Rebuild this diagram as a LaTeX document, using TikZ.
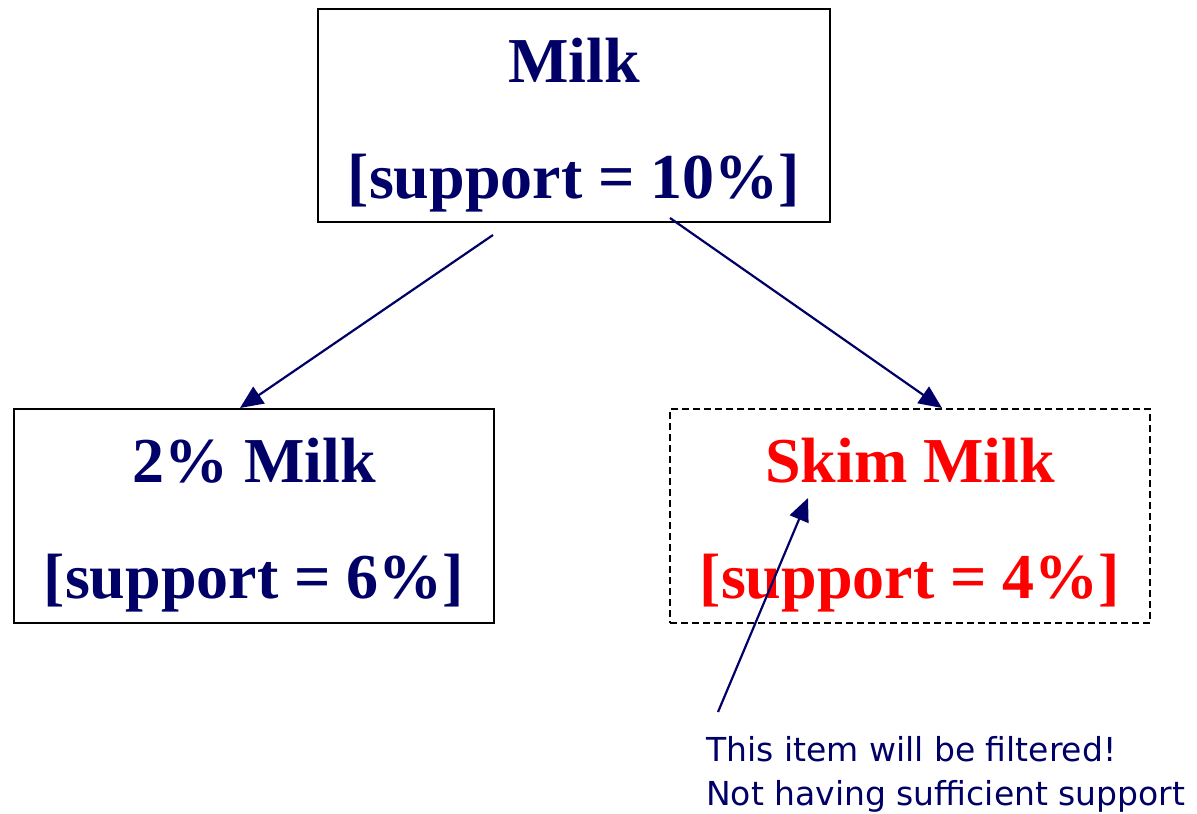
\documentclass[tikz,border=0pt]{standalone}
\usepackage{fontspec}
\setmainfont{Liberation Serif}
\newfontfamily\notefont{DejaVu Sans}
\usetikzlibrary{arrows.meta}
\definecolor{itemblue}{RGB}{0,0,102}
\definecolor{itemred}{RGB}{255,0,0}

\begin{document}
\begin{tikzpicture}[x=1pt,y=-1pt]
        \tikzstyle{every node}=[inner sep=0pt]
        \tikzstyle{itembox}=[draw=black,line width=2pt,minimum width=480pt,minimum height=214pt]
        \tikzstyle{itemtext}=[anchor=base,text=itemblue,font=\bfseries\fontsize{64}{76}\selectfont]
        \tikzstyle{link}=[draw=itemblue,line width=2.2pt,-{Triangle[length=23pt,width=20pt]}]
        \useasboundingbox (0,0) rectangle (1197,814);
        % boxes
        \node[itembox,minimum width=512pt,minimum height=213pt] (milk) at (574,115.5) {};
        \node[itembox] (two) at (254,516) {};
        \node[itembox,dash pattern=on 7pt off 4pt] (skim) at (910,516) {};
        % texts
        \node[itemtext] (milkname) at ([yshift=33.5pt]milk.center) {Milk};
        \node[itemtext] (milksup) at ([yshift=-82.5pt]milk.center) {[support = 10\%]};
        \node[itemtext] (twoname) at ([yshift=34pt]two.center) {2\% Milk};
        \node[itemtext] (twosup) at ([yshift=-82pt]two.center) {[support = 6\%]};
        \node[itemtext,text=itemred] (skimname) at ([yshift=34pt]skim.center) {Skim Milk};
        \node[itemtext,text=itemred] (skimsup) at ([yshift=-82pt]skim.center) {[support = 4\%]};
        \node[anchor=north west,align=left,text=itemblue,font=\notefont\fontsize{33}{44}\selectfont] (note) at (706,736) {This item will be filtered!\\Not having sufficient support};
        % links
        \draw[link] ([xshift=-81pt,yshift=-12pt]milk.south) -- ([xshift=-14pt]two.north);
        \draw[link] ([xshift=96pt,yshift=5pt]milk.south) -- ([xshift=32pt]skim.north);
        \draw[link] ([xshift=12pt,yshift=24pt]note.north west) -- ([xshift=-102pt,yshift=18pt]skim.center);
\end{tikzpicture}
\end{document}
